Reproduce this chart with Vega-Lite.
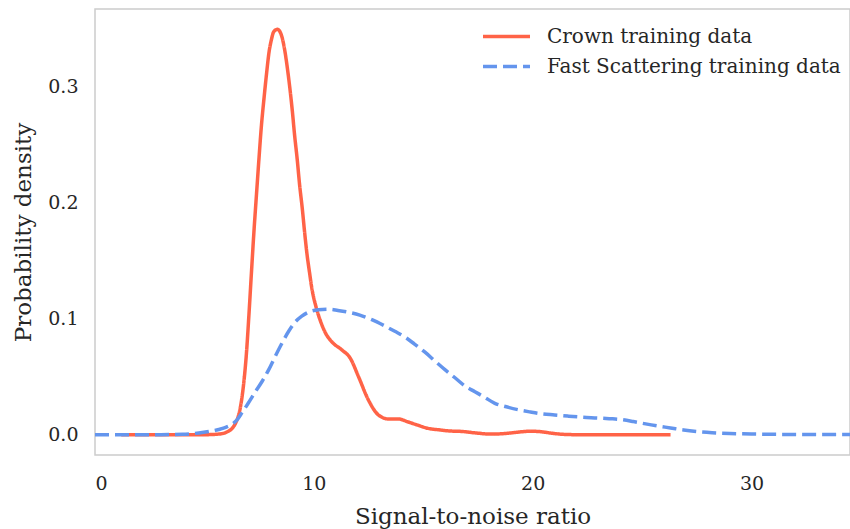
{
  "$schema": "https://vega.github.io/schema/vega-lite/v6.json",
  "width": 755,
  "height": 446,
  "autosize": {"type": "none"},
  "padding": {"left": 95, "top": 9, "right": 0, "bottom": 74},
  "background": "white",
  "config": {
    "view": {"stroke": "#cccccc", "strokeWidth": 1.5},
    "font": "DejaVu Serif",
    "axis": {
      "grid": false, "ticks": false, "domain": false,
      "labelFont": "DejaVu Serif", "labelFontSize": 19, "labelColor": "#262626",
      "titleFont": "DejaVu Serif", "titleFontSize": 23, "titleColor": "#262626", "titleFontWeight": "normal"
    },
    "legend": {"labelFont": "DejaVu Serif", "labelFontSize": 20, "labelColor": "#262626", "labelLimit": 400}
  },
  "data": {"values": [
    {"snr": 1.2, "density": 0, "series": "Crown training data"},
    {"snr": 2, "density": 0, "series": "Crown training data"},
    {"snr": 3, "density": 0, "series": "Crown training data"},
    {"snr": 4, "density": 0, "series": "Crown training data"},
    {"snr": 5, "density": 0, "series": "Crown training data"},
    {"snr": 5.65, "density": 0.0005, "series": "Crown training data"},
    {"snr": 6.1, "density": 0.003, "series": "Crown training data"},
    {"snr": 6.27, "density": 0.0055, "series": "Crown training data"},
    {"snr": 6.45, "density": 0.011, "series": "Crown training data"},
    {"snr": 6.58, "density": 0.018, "series": "Crown training data"},
    {"snr": 6.7, "density": 0.03, "series": "Crown training data"},
    {"snr": 6.8, "density": 0.045, "series": "Crown training data"},
    {"snr": 6.92, "density": 0.07, "series": "Crown training data"},
    {"snr": 7.03, "density": 0.102, "series": "Crown training data"},
    {"snr": 7.15, "density": 0.14, "series": "Crown training data"},
    {"snr": 7.26, "density": 0.174, "series": "Crown training data"},
    {"snr": 7.38, "density": 0.207, "series": "Crown training data"},
    {"snr": 7.49, "density": 0.237, "series": "Crown training data"},
    {"snr": 7.6, "density": 0.265, "series": "Crown training data"},
    {"snr": 7.72, "density": 0.289, "series": "Crown training data"},
    {"snr": 7.84, "density": 0.311, "series": "Crown training data"},
    {"snr": 7.95, "density": 0.329, "series": "Crown training data"},
    {"snr": 8.06, "density": 0.34, "series": "Crown training data"},
    {"snr": 8.17, "density": 0.347, "series": "Crown training data"},
    {"snr": 8.34, "density": 0.349, "series": "Crown training data"},
    {"snr": 8.45, "density": 0.347, "series": "Crown training data"},
    {"snr": 8.55, "density": 0.342, "series": "Crown training data"},
    {"snr": 8.67, "density": 0.331, "series": "Crown training data"},
    {"snr": 8.78, "density": 0.317, "series": "Crown training data"},
    {"snr": 8.9, "density": 0.299, "series": "Crown training data"},
    {"snr": 9.01, "density": 0.28, "series": "Crown training data"},
    {"snr": 9.12, "density": 0.258, "series": "Crown training data"},
    {"snr": 9.24, "density": 0.237, "series": "Crown training data"},
    {"snr": 9.35, "density": 0.215, "series": "Crown training data"},
    {"snr": 9.47, "density": 0.195, "series": "Crown training data"},
    {"snr": 9.58, "density": 0.174, "series": "Crown training data"},
    {"snr": 9.69, "density": 0.155, "series": "Crown training data"},
    {"snr": 9.8, "density": 0.14, "series": "Crown training data"},
    {"snr": 9.9, "density": 0.127, "series": "Crown training data"},
    {"snr": 10.1, "density": 0.11, "series": "Crown training data"},
    {"snr": 10.3, "density": 0.098, "series": "Crown training data"},
    {"snr": 10.52, "density": 0.088, "series": "Crown training data"},
    {"snr": 10.82, "density": 0.08, "series": "Crown training data"},
    {"snr": 11.28, "density": 0.073, "series": "Crown training data"},
    {"snr": 11.66, "density": 0.066, "series": "Crown training data"},
    {"snr": 12.04, "density": 0.05, "series": "Crown training data"},
    {"snr": 12.49, "density": 0.03, "series": "Crown training data"},
    {"snr": 12.95, "density": 0.017, "series": "Crown training data"},
    {"snr": 13.41, "density": 0.0135, "series": "Crown training data"},
    {"snr": 13.87, "density": 0.0135, "series": "Crown training data"},
    {"snr": 14.3, "density": 0.011, "series": "Crown training data"},
    {"snr": 14.7, "density": 0.0085, "series": "Crown training data"},
    {"snr": 15.2, "density": 0.0055, "series": "Crown training data"},
    {"snr": 15.7, "density": 0.0042, "series": "Crown training data"},
    {"snr": 16.2, "density": 0.0032, "series": "Crown training data"},
    {"snr": 16.75, "density": 0.0028, "series": "Crown training data"},
    {"snr": 17.4, "density": 0.0015, "series": "Crown training data"},
    {"snr": 18.1, "density": 0.0005, "series": "Crown training data"},
    {"snr": 18.6, "density": 0.0008, "series": "Crown training data"},
    {"snr": 19.0, "density": 0.0015, "series": "Crown training data"},
    {"snr": 19.5, "density": 0.0025, "series": "Crown training data"},
    {"snr": 19.94, "density": 0.003, "series": "Crown training data"},
    {"snr": 20.4, "density": 0.0025, "series": "Crown training data"},
    {"snr": 20.86, "density": 0.0013, "series": "Crown training data"},
    {"snr": 21.4, "density": 0.0003, "series": "Crown training data"},
    {"snr": 22, "density": 0, "series": "Crown training data"},
    {"snr": 23, "density": 0, "series": "Crown training data"},
    {"snr": 24, "density": 0, "series": "Crown training data"},
    {"snr": 25, "density": 0, "series": "Crown training data"},
    {"snr": 26.3, "density": 0, "series": "Crown training data"},
    {"snr": 0, "density": 0, "series": "Fast Scattering training data"},
    {"snr": 1, "density": 0, "series": "Fast Scattering training data"},
    {"snr": 2, "density": 0, "series": "Fast Scattering training data"},
    {"snr": 3, "density": 0, "series": "Fast Scattering training data"},
    {"snr": 4, "density": 0.0003, "series": "Fast Scattering training data"},
    {"snr": 4.74, "density": 0.0015, "series": "Fast Scattering training data"},
    {"snr": 5.2, "density": 0.0028, "series": "Fast Scattering training data"},
    {"snr": 5.65, "density": 0.0045, "series": "Fast Scattering training data"},
    {"snr": 6.0, "density": 0.0065, "series": "Fast Scattering training data"},
    {"snr": 6.26, "density": 0.009, "series": "Fast Scattering training data"},
    {"snr": 6.5, "density": 0.013, "series": "Fast Scattering training data"},
    {"snr": 6.72, "density": 0.019, "series": "Fast Scattering training data"},
    {"snr": 7.0, "density": 0.027, "series": "Fast Scattering training data"},
    {"snr": 7.33, "density": 0.037, "series": "Fast Scattering training data"},
    {"snr": 7.64, "density": 0.046, "series": "Fast Scattering training data"},
    {"snr": 7.94, "density": 0.056, "series": "Fast Scattering training data"},
    {"snr": 8.25, "density": 0.068, "series": "Fast Scattering training data"},
    {"snr": 8.55, "density": 0.079, "series": "Fast Scattering training data"},
    {"snr": 8.85, "density": 0.089, "series": "Fast Scattering training data"},
    {"snr": 9.15, "density": 0.097, "series": "Fast Scattering training data"},
    {"snr": 9.45, "density": 0.102, "series": "Fast Scattering training data"},
    {"snr": 9.76, "density": 0.1055, "series": "Fast Scattering training data"},
    {"snr": 10.2, "density": 0.1075, "series": "Fast Scattering training data"},
    {"snr": 10.67, "density": 0.108, "series": "Fast Scattering training data"},
    {"snr": 11.1, "density": 0.107, "series": "Fast Scattering training data"},
    {"snr": 11.58, "density": 0.1055, "series": "Fast Scattering training data"},
    {"snr": 12.1, "density": 0.103, "series": "Fast Scattering training data"},
    {"snr": 12.65, "density": 0.099, "series": "Fast Scattering training data"},
    {"snr": 13.2, "density": 0.094, "series": "Fast Scattering training data"},
    {"snr": 13.7, "density": 0.089, "series": "Fast Scattering training data"},
    {"snr": 14.17, "density": 0.084, "series": "Fast Scattering training data"},
    {"snr": 14.6, "density": 0.078, "series": "Fast Scattering training data"},
    {"snr": 15.08, "density": 0.071, "series": "Fast Scattering training data"},
    {"snr": 15.5, "density": 0.064, "series": "Fast Scattering training data"},
    {"snr": 15.99, "density": 0.056, "series": "Fast Scattering training data"},
    {"snr": 16.45, "density": 0.049, "series": "Fast Scattering training data"},
    {"snr": 16.9, "density": 0.042, "series": "Fast Scattering training data"},
    {"snr": 17.36, "density": 0.037, "series": "Fast Scattering training data"},
    {"snr": 17.82, "density": 0.032, "series": "Fast Scattering training data"},
    {"snr": 18.27, "density": 0.027, "series": "Fast Scattering training data"},
    {"snr": 18.8, "density": 0.024, "series": "Fast Scattering training data"},
    {"snr": 19.33, "density": 0.0215, "series": "Fast Scattering training data"},
    {"snr": 19.9, "density": 0.0195, "series": "Fast Scattering training data"},
    {"snr": 20.4, "density": 0.018, "series": "Fast Scattering training data"},
    {"snr": 21.0, "density": 0.017, "series": "Fast Scattering training data"},
    {"snr": 21.6, "density": 0.016, "series": "Fast Scattering training data"},
    {"snr": 22.3, "density": 0.015, "series": "Fast Scattering training data"},
    {"snr": 23.0, "density": 0.0144, "series": "Fast Scattering training data"},
    {"snr": 23.5, "density": 0.0138, "series": "Fast Scattering training data"},
    {"snr": 24.05, "density": 0.013, "series": "Fast Scattering training data"},
    {"snr": 24.6, "density": 0.0113, "series": "Fast Scattering training data"},
    {"snr": 25.1, "density": 0.0095, "series": "Fast Scattering training data"},
    {"snr": 25.7, "density": 0.0075, "series": "Fast Scattering training data"},
    {"snr": 26.3, "density": 0.0058, "series": "Fast Scattering training data"},
    {"snr": 26.9, "density": 0.004, "series": "Fast Scattering training data"},
    {"snr": 27.5, "density": 0.0027, "series": "Fast Scattering training data"},
    {"snr": 28.2, "density": 0.0017, "series": "Fast Scattering training data"},
    {"snr": 29, "density": 0.001, "series": "Fast Scattering training data"},
    {"snr": 30, "density": 0.0006, "series": "Fast Scattering training data"},
    {"snr": 31, "density": 0.0003, "series": "Fast Scattering training data"},
    {"snr": 32, "density": 0.0002, "series": "Fast Scattering training data"},
    {"snr": 33, "density": 0.0001, "series": "Fast Scattering training data"},
    {"snr": 34.5, "density": 0.0001, "series": "Fast Scattering training data"}
  ]},
  "mark": {"type": "line", "strokeWidth": 3.5, "clip": true, "interpolate": "monotone"},
  "encoding": {
    "x": {
      "field": "snr", "type": "quantitative",
      "scale": {"domain": [0, 34.5], "nice": false, "zero": false},
      "axis": {"values": [0, 10, 20, 30], "title": "Signal-to-noise ratio", "labelPadding": 19, "titlePadding": 12}
    },
    "y": {
      "field": "density", "type": "quantitative",
      "scale": {"domain": [-0.0175, 0.3665], "nice": false, "zero": false},
      "axis": {"values": [0, 0.1, 0.2, 0.3], "format": ".1f", "title": "Probability density", "labelPadding": 17, "titlePadding": 12}
    },
    "color": {
      "field": "series", "type": "nominal",
      "scale": {"domain": ["Crown training data", "Fast Scattering training data"], "range": ["#FF6347", "#6495ED"]},
      "legend": {"title": null, "orient": "none", "legendX": 398, "legendY": 14, "symbolType": "M-2,0H2", "symbolSize": 552, "symbolStrokeWidth": 3.5, "labelOffset": 27, "rowPadding": 6}
    },
    "strokeDash": {
      "field": "series", "type": "nominal",
      "scale": {"domain": ["Crown training data", "Fast Scattering training data"], "range": [[1, 0], [14, 6]]},
      "legend": {"title": null, "orient": "none", "legendX": 398, "legendY": 14, "symbolType": "M-2,0H2", "symbolSize": 552, "symbolStrokeWidth": 3.5, "labelOffset": 27, "rowPadding": 6}
    }
  }
}
